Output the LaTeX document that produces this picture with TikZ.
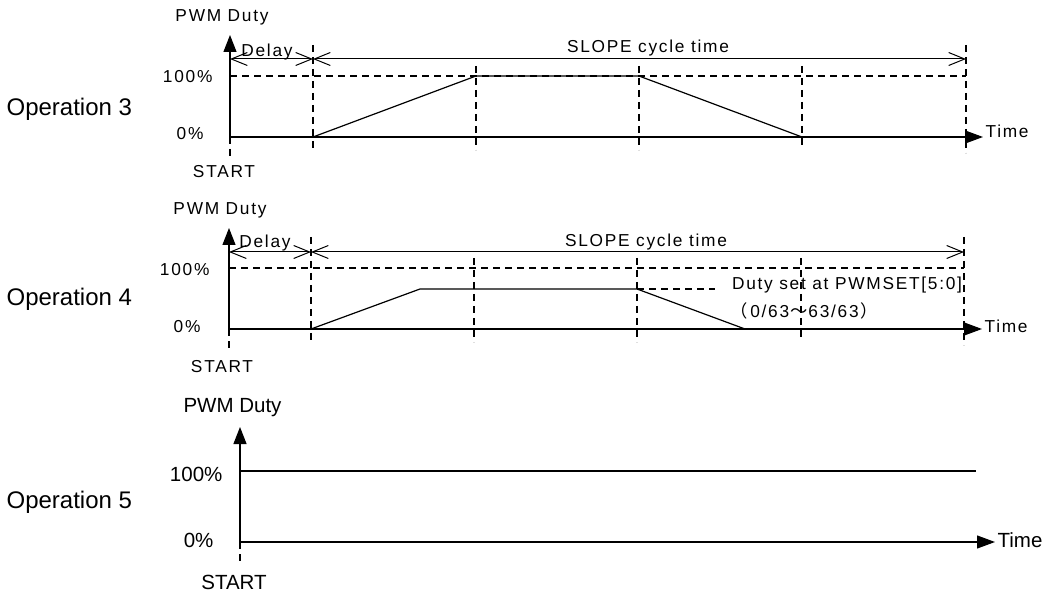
\documentclass[tikz,border=0pt]{standalone}
\usepackage{fontspec}
\setmainfont{Liberation Sans}
\newfontfamily\spacedfont[LetterSpace=10]{Liberation Sans}
\newfontfamily\cjkfont{Noto Sans CJK JP}
\usetikzlibrary{arrows.meta}
\begin{document}
\begin{tikzpicture}[x=1pt,y=-1pt, line width=1.2pt,
  txt/.style={inner sep=0pt, anchor=base, font=\spacedfont\fontsize{17.3}{20}\selectfont},
  txtr/.style={txt, anchor=base east},
  txtl/.style={txt, anchor=base west},
  big/.style={inner sep=0pt, anchor=base, font=\fontsize{20.5}{24}\selectfont},
  bigr/.style={big, anchor=base east},
  bigl/.style={big, anchor=base west},
  oplbl/.style={inner sep=0pt, font=\fontsize{24}{28}\selectfont, anchor=base west},
  dsh/.style={dash pattern=on 7pt off 5pt},
  yax/.style={-{Triangle[length=17pt,width=13pt]}},
  tax/.style={-{Triangle[length=18pt,width=13pt]}},
  dimarrow/.style={{Straight Barb[length=16pt,width=13pt]}-{Straight Barb[length=16pt,width=13pt]}, line width=1pt}
]
\useasboundingbox (0,0) rectangle (1045,596);

% ---------- Operation 3 ----------
\node[oplbl] (op3) at (6,115.5) {Operation 3};
\coordinate (a0) at (230,137);
\coordinate (atop) at (230,35);
\coordinate (abot) at (230,158);
\coordinate (aend) at (983,137);
\draw[yax] (a0) -- (atop);
\draw[dsh] (a0) -- (abot);
\draw[tax] (a0) -- (aend);
\coordinate (ah0) at (230,76);
\coordinate (ah1) at (966,76);
\draw[dsh] (ah0) -- (ah1);
\coordinate (ad0) at (230,59);
\coordinate (ad1) at (313,59);
\coordinate (ad2) at (966,59);
\draw[dimarrow] (ad0) -- (ad1);
\draw[dimarrow] (ad1) -- (ad2);
\draw[dsh] (313,45) -- (313,150);
\draw[dsh] (476,66) -- (476,150);
\draw[dsh] (639,66) -- (639,150);
\draw[dsh] (802,66) -- (802,148);
\draw[dsh] (966,45) -- (966,153);
\coordinate (aw1) at (313,137);
\coordinate (aw2) at (476,76);
\coordinate (aw3) at (639,76);
\coordinate (aw4) at (802,137);
\draw (aw1) -- (aw2) -- (aw3) -- (aw4);
\node[txt] (apwm) at (222,22) {PWM Duty};
\node[txt] (adelay) at (267,57) {Delay};
\node[txt] (aslope) at (648,53) {SLOPE cycle time};
\node[txtr] (a100) at (213,83) {100\%};
\node[txtr] (a0p) at (204,140) {0\%};
\node[txt] (astart) at (224,178) {START};
\node[txtl] (atime) at (985,138) {Time};

% ---------- Operation 4 ----------
\node[oplbl] (op4) at (6,305.6) {Operation 4};
\coordinate (b0) at (229,329);
\coordinate (btop) at (229,228);
\coordinate (bbot) at (229,350);
\coordinate (bend) at (982,329);
\draw[yax] (b0) -- (btop);
\draw[dsh] (b0) -- (bbot);
\draw[tax] (b0) -- (bend);
\coordinate (bh0) at (229,268);
\coordinate (bh1) at (964,268);
\draw[dsh] (bh0) -- (bh1);
\coordinate (bd0) at (229,252);
\coordinate (bd1) at (311,252);
\coordinate (bd2) at (964,252);
\draw[dimarrow] (bd0) -- (bd1);
\draw[dimarrow] (bd1) -- (bd2);
\draw[dsh] (311,237) -- (311,342);
\draw[dsh] (474,258) -- (474,342);
\draw[dsh] (637,258) -- (637,342);
\draw[dsh] (801,258) -- (801,339);
\draw[dsh] (964,237) -- (964,345);
\coordinate (bw1) at (311,329);
\coordinate (bw2) at (420,289);
\coordinate (bw3) at (637,289);
\coordinate (bw4) at (745,329);
\coordinate (bw5) at (715,289);
\draw (bw1) -- (bw2) -- (bw3) -- (bw4);
\draw[dsh] (bw3) -- (bw5);
\node[txt] (bpwm) at (220,215) {PWM Duty};
\node[txt] (bdelay) at (265,248) {Delay};
\node[txt] (bslope) at (646,247) {SLOPE cycle time};
\node[txtr] (b100) at (210,276) {100\%};
\node[txtr] (b0p) at (201,333) {0\%};
\node[txt] (bstart) at (222,372) {START};
\node[txtl] (btime) at (984,333) {Time};
\node[txt] (bduty) at (847,290) {Duty set at PWMSET[5:0]};
\node[txt] (brange) at (804,317) {{\cjkfont （}\hspace{3pt}0/63\hspace{1pt}{\cjkfont ～}\hspace{1pt}63/63\hspace{2pt}{\cjkfont ）}};

% ---------- Operation 5 ----------
\node[oplbl] (op5) at (6,508) {Operation 5};
\coordinate (c0) at (240,542);
\coordinate (ctop) at (240,427);
\coordinate (cbot) at (240,564);
\coordinate (cend) at (995,542);
\draw[yax] (c0) -- (ctop);
\draw[dsh] (c0) -- (cbot);
\draw[tax] (c0) -- (cend);
\coordinate (ch0) at (240,471);
\coordinate (ch1) at (976,471);
\draw (ch0) -- (ch1);
\node[big] (cpwm) at (232.5,412) {PWM Duty};
\node[bigr] (c100) at (223,481) {100\%};
\node[bigr] (c0p) at (214,547) {0\%};
\node[big] (cstart) at (234,589) {START};
\node[bigl] (ctime) at (997,547) {Time};
\end{tikzpicture}
\end{document}
